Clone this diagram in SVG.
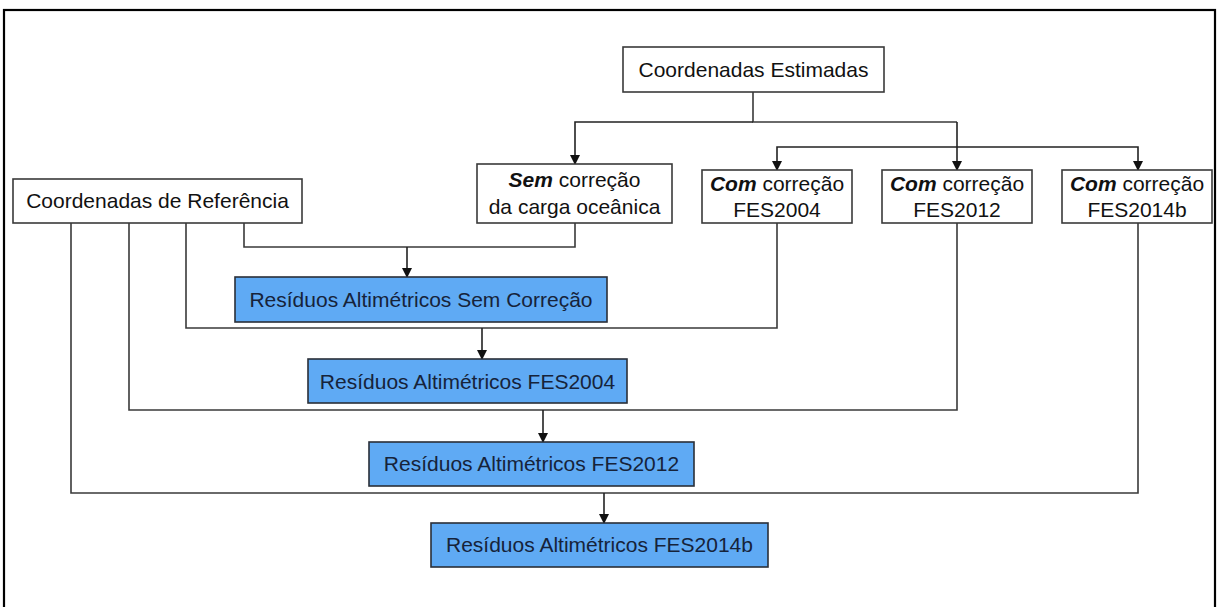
<svg xmlns="http://www.w3.org/2000/svg" width="1219" height="607" viewBox="0 0 1219 607">
<style>
.box{fill:#ffffff;stroke:#3a3a3a;stroke-width:1.6}
.res{fill:#5faaf4;stroke:#2a2f38;stroke-width:1.6}
.t{font-family:"Liberation Sans",Arial,sans-serif;font-size:21px;fill:#111;text-anchor:middle}
.rt{font-family:"Liberation Sans",Arial,sans-serif;font-size:21px;fill:#16233a;text-anchor:middle}
.b{font-weight:bold;font-style:italic}
.c{fill:none;stroke:#3a3a3a;stroke-width:1.6}
.a{fill:none;stroke:#222;stroke-width:1.6;marker-end:url(#arr)}
</style>
<defs>
<marker id="arr" markerUnits="userSpaceOnUse" markerWidth="10" markerHeight="12" refX="9" refY="5" orient="auto">
<path d="M0,0 L10,5 L0,10 z" fill="#111"/>
</marker>
</defs>
<rect x="4" y="10" width="1211" height="620" fill="#fff" stroke="#000" stroke-width="2.2"/>
<g id="connectors">
<path class="c" d="M753,92 V122 H957"/>
<path class="a" d="M753,122 H575 V164"/>
<path class="a" d="M957,122 V170"/>
<path class="a" d="M957,147 H777 V170"/>
<path class="a" d="M957,147 H1138 V170"/>
<path class="c" d="M244,223 V247 H575 V223"/>
<path class="a" d="M407,247 V277"/>
<path class="c" d="M186,223 V328 H777 V223"/>
<path class="a" d="M482,328 V359"/>
<path class="c" d="M129,223 V410 H957 V223"/>
<path class="a" d="M543,410 V442"/>
<path class="c" d="M71,223 V493 H1138 V223"/>
<path class="a" d="M604,493 V523"/>
</g>
<g id="estimadas">
<rect class="box" x="623" y="47" width="261" height="45"/>
<text class="t" x="753.5" y="77">Coordenadas Estimadas</text>
</g>
<g id="referencia">
<rect class="box" x="13" y="179" width="289" height="44"/>
<text class="t" x="157.5" y="208">Coordenadas de Referência</text>
</g>
<g id="sem">
<rect class="box" x="477" y="164" width="195" height="59"/>
<text class="t" x="574.5" y="187"><tspan class="b">Sem</tspan> correção</text>
<text class="t" x="574.5" y="214">da carga oceânica</text>
</g>
<g id="com2004">
<rect class="box" x="702" y="170" width="150" height="53"/>
<text class="t" x="777" y="191"><tspan class="b">Com</tspan> correção</text>
<text class="t" x="777" y="217">FES2004</text>
</g>
<g id="com2012">
<rect class="box" x="882" y="170" width="150" height="53"/>
<text class="t" x="957" y="191"><tspan class="b">Com</tspan> correção</text>
<text class="t" x="957" y="217">FES2012</text>
</g>
<g id="com2014b">
<rect class="box" x="1062" y="170" width="150" height="53"/>
<text class="t" x="1137" y="191"><tspan class="b">Com</tspan> correção</text>
<text class="t" x="1137" y="217">FES2014b</text>
</g>
<g id="res-sem">
<rect class="res" x="235" y="277" width="372" height="45"/>
<text class="rt" x="421" y="307">Resíduos Altimétricos Sem Correção</text>
</g>
<g id="res-2004">
<rect class="res" x="308" y="359" width="319" height="44"/>
<text class="rt" x="467.5" y="389">Resíduos Altimétricos FES2004</text>
</g>
<g id="res-2012">
<rect class="res" x="369" y="442" width="325" height="44"/>
<text class="rt" x="531.5" y="471">Resíduos Altimétricos FES2012</text>
</g>
<g id="res-2014b">
<rect class="res" x="431" y="523" width="337" height="44"/>
<text class="rt" x="599.5" y="552">Resíduos Altimétricos FES2014b</text>
</g>
</svg>
